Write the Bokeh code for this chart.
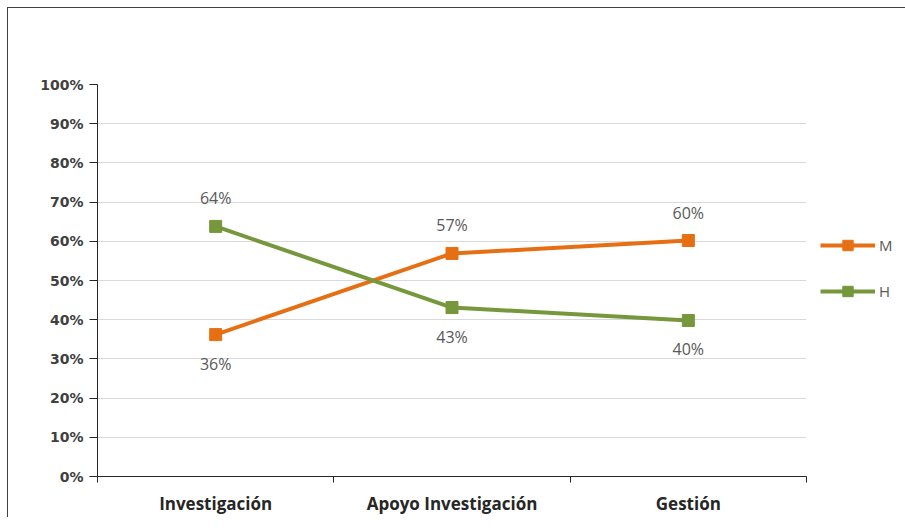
from bokeh.plotting import figure
from bokeh.models import (ColumnDataSource, FixedTicker, NumeralTickFormatter, Legend,
                          LegendItem, LabelSet, Label, Range1d)
from bokeh.core.properties import value
from bokeh.embed import file_html
from bokeh.resources import INLINE

title_text = "Personal Funcionario 2019. Actividad desarrollada"
categories = ["Investigación", "Apoyo Investigación", "Gestión"]
m_values = [0.362, 0.569, 0.602]
h_values = [0.638, 0.431, 0.398]
y_ticks = [0.0, 0.1, 0.2, 0.3, 0.4, 0.5, 0.6, 0.7, 0.8, 0.9, 1.0]

ORANGE = "#E66F14"
GREEN = "#76973B"

xs = [i + 0.5 for i in range(len(categories))]

def pct(v):
    return f"{round(v * 100):d}%"

m_src = ColumnDataSource(dict(
    x=xs, y=m_values, label=[pct(v) for v in m_values],
    dy=[28 if m >= h else -29 for m, h in zip(m_values, h_values)]))
h_src = ColumnDataSource(dict(
    x=xs, y=h_values, label=[pct(v) for v in h_values],
    dy=[28 if h >= m else -29 for m, h in zip(m_values, h_values)]))

p = figure(output_backend="svg", toolbar_location=None,
           x_range=Range1d(0, len(categories)), y_range=Range1d(0, 1),
           frame_width=709, frame_height=392,
           min_border_left=89, min_border_top=76, min_border_bottom=40, min_border_right=0)

# chart title, centred over the plot area, above its top edge
p.add_layout(Label(x=len(categories) / 2, y=y_ticks[-1], y_offset=54, text=title_text,
                   text_align="center", text_baseline="middle",
                   text_font="Lato", text_font_size="24.5px", text_color="#8A8A8A"))

p.outline_line_color = None
p.background_fill_color = "white"
p.border_fill_color = "white"
p.styles = {"margin-left": "7px", "margin-top": "7px",
            "border-left": "1px solid #404040", "border-top": "1px solid #404040"}

# y axis
p.yaxis.ticker = FixedTicker(ticks=y_ticks)
p.yaxis.formatter = NumeralTickFormatter(format="0%")
p.yaxis.major_tick_out = 8
p.yaxis.major_tick_in = 0
p.yaxis.minor_tick_out = 0
p.yaxis.minor_tick_in = 0
p.yaxis.axis_line_color = "#262626"
p.yaxis.major_tick_line_color = "#262626"
p.yaxis.major_label_text_font = "DejaVu Sans"
p.yaxis.major_label_text_font_style = "bold"
p.yaxis.major_label_text_font_size = "14px"
p.yaxis.major_label_text_color = "#404040"
p.yaxis.major_label_standoff = 6

# x axis: labels at category centres, ticks at boundaries
p.xaxis.ticker = FixedTicker(ticks=xs, minor_ticks=list(range(len(categories) + 1)))
p.xaxis.major_label_overrides = {x: c for x, c in zip(xs, categories)}
p.xaxis.major_tick_out = 0
p.xaxis.major_tick_in = 0
p.xaxis.minor_tick_out = 6
p.xaxis.minor_tick_in = 0
p.xaxis.minor_tick_line_color = "#262626"
p.xaxis.axis_line_color = "#262626"
p.xaxis.major_label_text_font = "Open Sans"
p.xaxis.major_label_text_font_style = "bold"
p.xaxis.major_label_text_font_size = "17px"
p.xaxis.major_label_text_color = "#262626"
p.xaxis.major_label_standoff = 9

p.xgrid.grid_line_color = None
p.ygrid.ticker = FixedTicker(ticks=y_ticks)
p.ygrid.grid_line_color = "#D9D9D9"

lm = p.line("x", "y", source=m_src, line_color=ORANGE, line_width=4)
sm = p.scatter("x", "y", source=m_src, marker="square", size=12,
               fill_color=ORANGE, line_color=ORANGE)
lh = p.line("x", "y", source=h_src, line_color=GREEN, line_width=4)
sh = p.scatter("x", "y", source=h_src, marker="square", size=12,
               fill_color=GREEN, line_color=GREEN)

for src in (m_src, h_src):
    p.add_layout(LabelSet(x="x", y="y", text="label", source=src, y_offset="dy",
                          text_align="center", text_baseline="middle",
                          text_font=value("Open Sans"), text_font_size=value("16px"),
                          text_color="#595959"))

legend = Legend(items=[LegendItem(label="M", renderers=[lm, sm]),
                       LegendItem(label="H", renderers=[lh, sh])],
                location=(14, 172), orientation="vertical",
                glyph_width=55, glyph_height=26, label_standoff=4,
                label_height=26, spacing=20, padding=0, margin=0,
                border_line_color=None, background_fill_alpha=0,
                label_text_font="Open Sans", label_text_font_size="15px",
                label_text_color="#595959")
p.add_layout(legend, "right")

open("out.html", "w").write(file_html(p, INLINE))
